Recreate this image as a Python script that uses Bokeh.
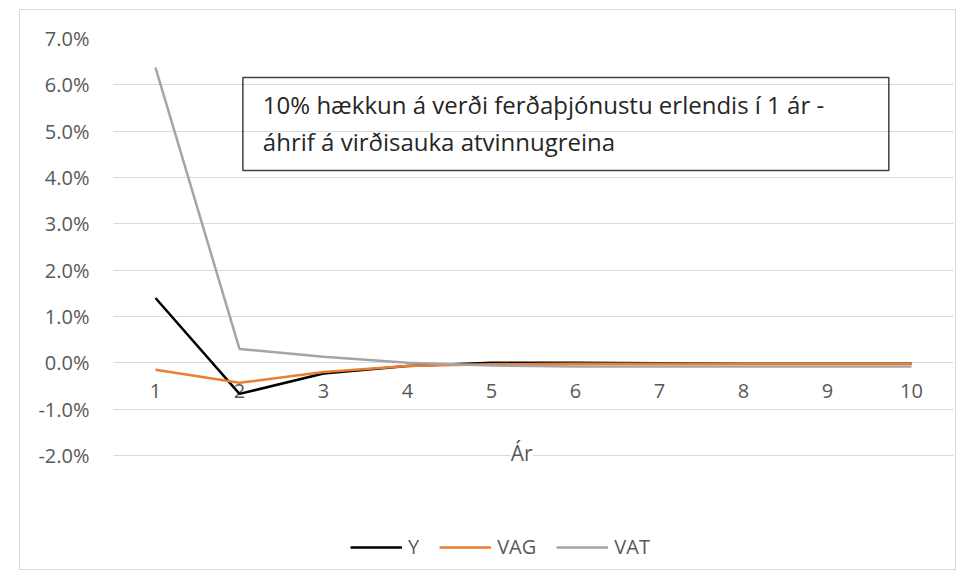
from bokeh.plotting import figure
from bokeh.models import (FixedTicker, PrintfTickFormatter, Legend, LegendItem,
                          Label, BoxAnnotation, ColumnDataSource)
from bokeh.core.properties import value
from bokeh.embed import file_html
from bokeh.resources import INLINE

# ---- data ----
years = [1, 2, 3, 4, 5, 6, 7, 8, 9, 10]
year_labels = ["1", "2", "3", "4", "5", "6", "7", "8", "9", "10"]
y_vals = [1.40, -0.67, -0.23, -0.07, 0.00, 0.00, -0.01, -0.02, -0.02, -0.02]
vag_vals = [-0.15, -0.43, -0.20, -0.07, -0.03, -0.02, -0.02, -0.02, -0.02, -0.02]
vat_vals = [6.37, 0.30, 0.13, 0.00, -0.06, -0.08, -0.08, -0.08, -0.08, -0.08]
y_ticks = [-2, -1, 0, 1, 2, 3, 4, 5, 6, 7]
series_names = ["Y", "VAG", "VAT"]
series_colors = ["#000000", "#ED7D31", "#A5A5A5"]
x_title = "Ár"
box_lines = ["10% hækkun á verði ferðaþjónustu erlendis í 1 ár -",
             "áhrif á virðisauka atvinnugreina"]

FONT = "Open Sans"
GREY_TXT = "#595959"

# frame extends below -2% so that the axis title and legend live inside it
p = figure(width=935, height=559, x_range=(0.5, 10.5), y_range=(-4.374, 7),
           output_backend="svg", toolbar_location=None,
           min_border_left=93, min_border_right=2, min_border_top=28,
           min_border_bottom=4,
           styles={"margin-left": "20px", "margin-top": "10px",
                   "outline": "1px solid #d9d9d9"})
p.outline_line_color = None
p.background_fill_color = "white"
p.border_fill_color = "white"

p.xaxis.visible = False
p.xgrid.visible = False
p.ygrid.grid_line_color = "#d9d9d9"
p.ygrid.grid_line_width = 1

p.yaxis.ticker = FixedTicker(ticks=y_ticks)
p.yaxis.formatter = PrintfTickFormatter(format="%.1f%%")
p.yaxis.axis_line_color = None
p.yaxis.major_tick_line_color = None
p.yaxis.minor_tick_line_color = None
p.yaxis.major_label_standoff = 18
p.yaxis.major_label_text_font = FONT
p.yaxis.major_label_text_font_size = "20px"
p.yaxis.major_label_text_color = GREY_TXT

# category labels sitting just below the zero line
src_lab = ColumnDataSource(dict(x=years, y=[0] * len(years), t=year_labels))
p.text(x="x", y="y", text="t", source=src_lab, text_align="center",
       text_baseline="middle", y_offset=28, text_font=value(FONT),
       text_font_size="20px", text_color=GREY_TXT)

renderers = []
for vals, col in zip([y_vals, vag_vals, vat_vals], series_colors):
    r = p.line(years, vals, line_color=col, line_width=2.5)
    renderers.append(r)

legend = Legend(items=[LegendItem(label=n, renderers=[r]) for n, r in zip(series_names, renderers)],
                orientation="horizontal", location=(237, 5),
                glyph_width=52, glyph_height=20, label_standoff=6, spacing=20,
                label_width=0, padding=0, margin=0, border_line_color=None,
                background_fill_alpha=0,
                label_text_font=FONT, label_text_font_size="20px",
                label_text_color=GREY_TXT)
p.add_layout(legend, "center")

# axis title
p.add_layout(Label(x=5.36, y=-1.95, text=x_title, text_align="center",
                   text_baseline="middle", text_font=FONT,
                   text_font_size="21px", text_color=GREY_TXT,
                   background_fill_color="white"))

# text box
p.add_layout(BoxAnnotation(left=2.04, right=9.73, top=6.16, bottom=4.15,
                           fill_alpha=0, line_color="#404040", line_alpha=1,
                           line_width=1.5))
for ln, yy in zip(box_lines, [5.575, 4.777]):
    p.add_layout(Label(x=2.04, y=yy, x_offset=20, text=ln, text_align="left",
                       text_baseline="middle", text_font=FONT,
                       text_font_size="24px", text_color="#262626"))

open("out.html", "w").write(file_html(p, INLINE))
